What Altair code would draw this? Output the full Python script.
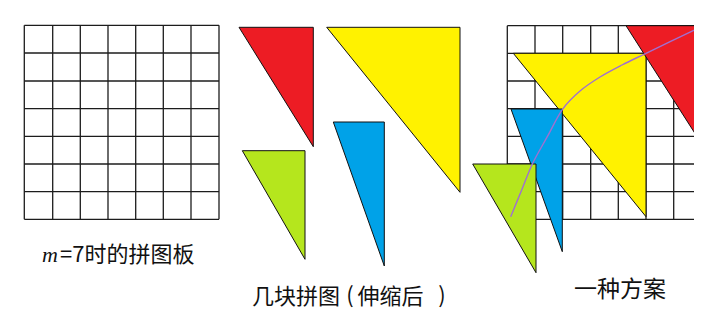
import altair as alt
import pandas as pd

# ---- data (reference pixel coordinates) ----
M = 7
# m=7 board (left): grid line positions
board1_x = [24.3, 52.7, 80.3, 108.0, 135.7, 163.3, 191.0, 219.0]
board1_y = [25.3, 53.0, 81.0, 108.7, 136.3, 164.0, 191.7, 219.3]
# board in the solution (right)
board2_x = [507.3, 535.0, 562.7, 590.7, 618.3, 646.0, 673.7, 701.3]
board2_y = [25.7, 53.3, 81.0, 108.7, 136.3, 164.0, 191.7, 219.3]

piece_name = ["红", "黄", "绿", "蓝"]
piece_color = ["#ED1C24", "#FFF200", "#B5E61D", "#00A2E8"]

# loose pieces (middle): right triangles, horizontal top edge, vertical right edge
mid_left = [239.0, 326.7, 242.3, 333.3]
mid_right = [313.3, 460.0, 305.0, 384.3]
mid_top = [27.3, 27.3, 150.7, 122.0]
mid_bottom = [146.7, 192.3, 259.3, 266.0]

# placed pieces (right)
put_left = [626.0, 513.3, 472.7, 511.0]
put_right = [701.3, 646.0, 536.0, 562.3]
put_top = [25.7, 53.3, 164.0, 109.0]
put_bottom = [143.3, 216.7, 272.7, 251.7]
put_order = ["黄", "红", "蓝", "绿"]

curve_x = [701.3, 646.0, 622.0, 600.0, 580.0, 562.5, 547.3, 532.7, 521.7, 510.7]
curve_y = [26.7, 53.3, 65.0, 77.0, 91.0, 109.3, 136.7, 163.3, 190.0, 216.7]

labels = ["m", "=7时的拼图板", "几块拼图", "(", "伸缩后", ")", "一种方案"]
label_x = [42.0, 60.0, 252.0, 350.0, 357.5, 442.0, 574.0]
label_y = [254.5, 254.5, 297.0, 296.0, 297.0, 296.0, 290.0]
label_size = [22, 22, 22, 22, 22, 22, 23]
label_align = ["left", "left", "left", "center", "left", "center", "left"]
label_font = ["Liberation Serif"] + ["Noto Sans CJK SC"] * 6
label_style = ["italic"] + ["normal"] * 6

# ---- scales (page pixels; plot area starts at the 8px page margin) ----
W, H = 686, 303
xs = alt.Scale(domain=[8, 8 + W], range=[0, W], nice=False, zero=False)
ys = alt.Scale(domain=[8 + H, 8], range=[H, 0], nice=False, zero=False)
X = lambda f: alt.X(f, type="quantitative", scale=xs, axis=None)
Y = lambda f: alt.Y(f, type="quantitative", scale=ys, axis=None)

def grid(xpos, ypos):
    v = pd.DataFrame({"x": xpos, "y": [ypos[0]] * len(xpos), "y2": [ypos[-1]] * len(xpos)})
    h = pd.DataFrame({"y": ypos, "x": [xpos[0]] * len(ypos), "x2": [xpos[-1]] * len(ypos)})
    vl = alt.Chart(v).mark_rule(color="#1c1c1c", strokeWidth=1.3, clip=True).encode(
        x=X("x"), y=Y("y"), y2="y2")
    hl = alt.Chart(h).mark_rule(color="#1c1c1c", strokeWidth=1.3, clip=True).encode(
        x=X("x"), x2="x2", y=Y("y"))
    return [vl, hl]

def tri(l, r, t, b, color):
    df = pd.DataFrame({"x": [l, r], "y": [t, b], "y2": [t, t]})
    return alt.Chart(df).mark_area(
        color=color, stroke="#111111", strokeWidth=1, strokeJoin="miter", clip=True
    ).encode(x=X("x"), y=alt.Y("y", type="quantitative", scale=ys, axis=None, stack=None), y2="y2")

layers = []
layers += grid(board1_x, board1_y)
for i in range(4):
    layers.append(tri(mid_left[i], mid_right[i], mid_top[i], mid_bottom[i], piece_color[i]))
layers += grid(board2_x, board2_y)
for name in put_order:
    i = piece_name.index(name)
    layers.append(tri(put_left[i], put_right[i], put_top[i], put_bottom[i], piece_color[i]))

cdf = pd.DataFrame({"x": curve_x, "y": curve_y, "o": list(range(len(curve_x)))})
layers.append(alt.Chart(cdf).mark_line(color="#A070D0", strokeWidth=1.4, interpolate="cardinal", clip=True).encode(
    x=X("x"), y=Y("y"), order="o:Q"))

for i in range(len(labels)):
    tdf = pd.DataFrame({"x": [label_x[i]], "y": [label_y[i]], "t": [labels[i]]})
    layers.append(alt.Chart(tdf).mark_text(
        font=label_font[i], fontStyle=label_style[i], fontSize=label_size[i], align=label_align[i],
        baseline="middle", color="#111111"
    ).encode(x=X("x"), y=Y("y"), text="t:N"))

chart = alt.layer(*layers).properties(
    width=W, height=H, padding=0, autosize=alt.AutoSizeParams(type="none"),
    background="white"
).configure_view(stroke=None)

chart.save("out.html", embed_options={"renderer": "svg", "actions": False})
